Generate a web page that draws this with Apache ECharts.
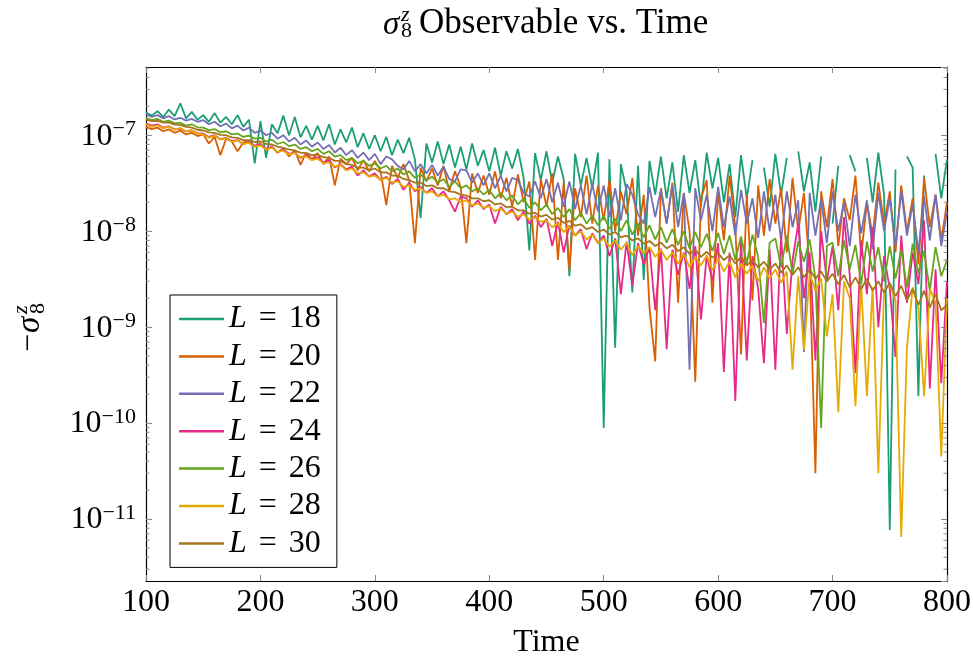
<!DOCTYPE html>
<html><head><meta charset="utf-8">
<script src="https://cdn.jsdelivr.net/npm/echarts@6/dist/echarts.min.js"></script>
<style>html,body{margin:0;padding:0;background:#fff}#c{width:973px;height:659px}</style>
</head><body><div id="c"></div>
<script>
const time = [100,105,110,115,120,125,130,135,140,145,150,155,160,165,170,175,180,185,190,195,
200,205,210,215,220,225,230,235,240,245,250,255,260,265,270,275,280,285,290,295,
300,305,310,315,320,325,330,335,340,345,350,355,360,365,370,375,380,385,390,395,
400,405,410,415,420,425,430,435,440,445,450,455,460,465,470,475,480,485,490,495,
500,505,510,515,520,525,530,535,540,545,550,555,560,565,570,575,580,585,590,595,
600,605,610,615,620,625,630,635,640,645,650,655,660,665,670,675,680,685,690,695,
700,705,710,715,720,725,730,735,740,745,750,755,760,765,770,775,780,785,790,795,800];

const L18 = [1.72e-7,1.6e-7,1.78e-7,1.55e-7,1.85e-7,1.58e-7,2.15e-7,1.5e-7,1.75e-7,1.45e-7,
1.62e-7,1.38e-7,1.7e-7,1.35e-7,1.55e-7,1.3e-7,1.62e-7,1.22e-7,1.45e-7,5.1e-8,
1.4e-7,5.8e-8,1.3e-7,1.05e-7,1.6e-7,1.0e-7,1.55e-7,9.5e-8,1.25e-7,9.0e-8,
1.25e-7,8.8e-8,1.3e-7,8.0e-8,1.15e-7,8.4e-8,1.2e-7,7.5e-8,1.05e-7,7.2e-8,
1.0e-7,6.8e-8,9.6e-8,6.2e-8,9.0e-8,6.5e-8,9.4e-8,5.6e-8,1.37e-8,8.2e-8,
5.2e-8,8.6e-8,5.0e-8,8.0e-8,4.6e-8,7.6e-8,4.4e-8,8.2e-8,4.8e-8,7.0e-8,
4.2e-8,7.4e-8,3.8e-8,6.8e-8,4.5e-8,7.2e-8,3.6e-8,6.3e-9,6.5e-8,3.4e-8,
6.8e-8,3.2e-8,6.0e-8,3.5e-8,3.4e-9,6.4e-8,3.0e-8,5.8e-8,2.8e-8,6.6e-8,
8.9e-11,5.6e-8,6.1e-10,5.0e-8,2.6e-8,2.3e-9,4.8e-8,3.1e-9,5.4e-8,2.4e-8,
6.0e-8,2.2e-8,5.2e-8,1.6e-8,6.2e-8,2.5e-8,5.5e-8,1.8e-8,6.6e-8,2.8e-8,
5.8e-8,2.0e-8,5.0e-8,1.4e-8,6.2e-8,2.2e-8,5.5e-8,null,4.6e-8,1.8e-8,
6.4e-8,2.4e-8,5.8e-8,null,6.8e-8,2.6e-8,5.2e-8,1.6e-8,6.0e-8,null,
1.2e-8,4.8e-8,null,6.2e-8,4.2e-8,null,5.8e-8,2.0e-8,6.6e-8,2.4e-8,
7.7e-12,4.4e-8,null,6.0e-8,4.6e-8,1.9e-10,3.8e-8,null,6.4e-8,2.2e-8,
5.6e-8];

const L20 = [1.22e-7,1.16e-7,1.2e-7,1.1e-7,1.15e-7,1.06e-7,1.12e-7,1.02e-7,1.06e-7,9.8e-8,
1.02e-7,8.2e-8,9.6e-8,6.2e-8,9.2e-8,8.6e-8,6.8e-8,8.4e-8,8.6e-8,7.6e-8,
8.2e-8,7.0e-8,7.6e-8,6.6e-8,7.3e-8,6.0e-8,7.0e-8,4.9e-8,6.6e-8,5.6e-8,
6.5e-8,5.0e-8,6.0e-8,3.0e-8,5.7e-8,5.0e-8,5.8e-8,4.3e-8,5.5e-8,4.2e-8,
5.4e-8,4.2e-8,1.87e-8,4.8e-8,3.6e-8,5.0e-8,3.4e-8,7.5e-9,4.6e-8,3.3e-8,
4.5e-8,3.0e-8,4.8e-8,2.6e-8,4.2e-8,2.9e-8,7.5e-9,4.0e-8,2.5e-8,3.8e-8,
2.4e-8,4.2e-8,2.2e-8,3.6e-8,1.8e-8,3.9e-8,2.0e-8,3.3e-8,5.0e-9,3.5e-8,
1.8e-8,4.0e-8,5.0e-9,3.2e-8,3.9e-9,2.8e-8,1.4e-8,3.8e-8,1.2e-8,3.0e-8,
1.3e-8,3.4e-8,1.0e-8,2.6e-8,1.5e-8,3.6e-8,9.0e-9,2.4e-8,1.6e-9,4.4e-10,
2.8e-8,1.2e-8,3.2e-8,1.8e-9,2.5e-8,1.0e-8,2.7e-10,2.2e-8,3.4e-8,1.8e-9,
2.6e-8,8.0e-9,3.8e-8,1.1e-8,5.2e-10,2.4e-8,1.9e-9,3.0e-8,9.0e-9,3.5e-8,
1.2e-8,2.8e-8,6.0e-9,3.6e-8,1.0e-8,2.5e-8,4.0e-9,3.0e-11,2.6e-8,1.1e-8,
3.5e-8,7.0e-9,2.2e-8,1.3e-8,3.8e-8,5.5e-9,2.0e-8,9.0e-9,3.2e-8,1.2e-8,
2.6e-8,6.0e-9,3.0e-8,1.0e-8,2.2e-8,4.5e-9,3.6e-8,1.1e-8,2.4e-8,8.0e-9,
2.0e-8];

const L22 = [1.66e-7,1.55e-7,1.62e-7,1.5e-7,1.58e-7,1.46e-7,1.52e-7,1.42e-7,1.48e-7,1.38e-7,
1.44e-7,1.3e-7,1.38e-7,1.24e-7,1.32e-7,1.18e-7,1.26e-7,1.12e-7,1.2e-7,1.06e-7,
1.12e-7,1.0e-7,1.06e-7,9.2e-8,1.0e-7,8.6e-8,9.4e-8,8.0e-8,8.8e-8,7.6e-8,
8.4e-8,7.2e-8,7.9e-8,6.6e-8,7.4e-8,6.2e-8,7.0e-8,5.8e-8,6.6e-8,5.5e-8,
6.4e-8,5.0e-8,6.0e-8,5.6e-8,4.8e-8,4.4e-8,5.4e-8,4.2e-8,5.0e-8,4.0e-8,
4.9e-8,3.8e-8,4.7e-8,3.5e-8,3.3e-8,4.4e-8,4.3e-8,3.2e-8,4.0e-8,3.0e-8,
4.0e-8,2.8e-8,3.8e-8,2.6e-8,3.6e-8,3.4e-8,2.5e-8,2.3e-8,3.3e-8,2.2e-8,
3.5e-8,2.0e-8,3.2e-8,1.8e-8,3.3e-8,1.7e-8,3.0e-8,1.5e-8,3.1e-8,1.6e-8,
3.0e-8,1.4e-8,2.8e-8,1.3e-8,3.1e-8,2.4e-8,1.5e-8,1.2e-8,2.9e-8,1.4e-8,
2.7e-8,1.2e-8,3.0e-8,1.1e-8,2.5e-8,3.6e-10,2.8e-8,1.3e-8,2.4e-8,1.0e-8,
2.9e-8,1.1e-8,2.3e-8,9.0e-9,2.7e-8,1.2e-8,2.2e-8,8.5e-9,2.6e-8,1.0e-8,
2.4e-8,8.0e-9,2.6e-8,1.1e-8,2.1e-8,5.5e-10,2.5e-8,9.0e-9,2.2e-8,7.5e-9,
2.6e-8,1.0e-8,2.0e-8,7.0e-9,2.4e-8,9.5e-9,2.1e-8,6.5e-9,2.5e-8,1.0e-8,
2.2e-8,7.0e-9,2.6e-8,9.0e-9,1.9e-8,6.0e-9,2.3e-8,8.0e-9,2.4e-8,7.0e-9,
1.6e-8];

const L24 = [1.33e-7,1.26e-7,1.3e-7,1.2e-7,1.24e-7,1.15e-7,1.17e-7,1.1e-7,1.12e-7,1.05e-7,
1.04e-7,9.6e-8,1.0e-7,9.1e-8,9.4e-8,8.7e-8,8.9e-8,8.1e-8,8.4e-8,7.8e-8,
8.0e-8,7.2e-8,7.6e-8,6.6e-8,7.1e-8,6.4e-8,6.6e-8,5.8e-8,6.2e-8,5.6e-8,
5.9e-8,5.2e-8,5.5e-8,4.6e-8,5.0e-8,4.4e-8,4.7e-8,3.8e-8,4.3e-8,3.7e-8,
4.0e-8,3.4e-8,3.7e-8,3.1e-8,3.5e-8,2.7e-8,3.2e-8,2.6e-8,2.9e-8,2.5e-8,
2.8e-8,2.3e-8,2.6e-8,2.1e-8,1.6e-8,2.3e-8,2.2e-8,1.8e-8,2.1e-8,1.7e-8,
1.9e-8,1.2e-8,1.8e-8,1.5e-8,1.7e-8,1.3e-8,1.6e-8,1.2e-8,1.45e-8,1.1e-8,
1.35e-8,7.0e-9,1.25e-8,6.0e-9,1.15e-8,9.0e-9,1.05e-8,6.5e-9,9.5e-9,7.5e-9,
9.0e-9,5.5e-9,8.4e-9,2.2e-9,7.8e-9,2.7e-9,7.5e-9,4.5e-9,6.8e-9,1.5e-9,
6.6e-9,5.9e-10,6.4e-9,3.5e-9,6.0e-9,2.5e-9,7.0e-9,1.2e-9,5.6e-9,3.0e-9,
7.5e-9,3.4e-10,6.0e-9,1.7e-10,8.0e-9,4.5e-10,5.5e-9,2.5e-9,4.2e-10,6.5e-9,
3.6e-10,9.0e-9,8.5e-10,5.0e-9,1.2e-8,2.0e-9,6.0e-9,4.5e-10,1.0e-8,3.0e-9,
7.0e-9,1.5e-9,1.4e-8,3.5e-9,3.3e-10,8.0e-9,2.2e-9,1.1e-8,1.0e-9,5.5e-9,
2.5e-9,4.9e-10,9.0e-9,1.8e-9,6.0e-9,2.8e-9,1.3e-8,2.3e-10,4.0e-9,2.6e-10,
3.0e-9];

const L26 = [1.52e-7,1.44e-7,1.48e-7,1.38e-7,1.42e-7,1.33e-7,1.35e-7,1.26e-7,1.3e-7,1.21e-7,
1.2e-7,1.13e-7,1.16e-7,1.07e-7,1.1e-7,1.02e-7,1.04e-7,9.6e-8,9.9e-8,9.2e-8,
9.4e-8,8.6e-8,9.0e-8,8.1e-8,8.5e-8,7.7e-8,8.0e-8,7.2e-8,7.5e-8,6.8e-8,
7.2e-8,6.4e-8,6.8e-8,6.0e-8,6.2e-8,5.5e-8,5.8e-8,5.1e-8,5.4e-8,4.8e-8,
5.1e-8,4.5e-8,4.8e-8,4.2e-8,4.5e-8,3.9e-8,4.2e-8,3.6e-8,3.9e-8,3.4e-8,
3.7e-8,3.2e-8,3.5e-8,2.9e-8,3.3e-8,2.8e-8,3.0e-8,2.6e-8,2.8e-8,2.4e-8,
2.7e-8,2.2e-8,2.5e-8,2.1e-8,2.35e-8,1.9e-8,2.2e-8,1.75e-8,2.0e-8,1.65e-8,
1.9e-8,1.5e-8,1.75e-8,1.4e-8,1.7e-8,1.3e-8,1.55e-8,1.2e-8,1.45e-8,1.15e-8,
1.45e-8,1.05e-8,1.35e-8,1.0e-8,1.3e-8,9.2e-9,1.2e-8,8.6e-9,1.15e-8,8.2e-9,
1.1e-8,7.6e-9,1.05e-8,7.2e-9,1.0e-8,6.6e-9,9.8e-9,6.8e-9,9.4e-9,6.2e-9,
9.6e-9,5.8e-9,9.0e-9,5.0e-9,8.8e-9,4.6e-9,9.2e-9,5.4e-9,1.1e-9,7.6e-9,
8.4e-9,4.2e-9,9.0e-9,3.6e-9,7.8e-9,4.8e-9,8.2e-9,3.2e-9,8.9e-11,7.0e-9,
7.6e-9,3.4e-9,8.0e-9,4.0e-9,7.2e-9,2.8e-9,7.8e-9,3.8e-9,6.8e-9,3.0e-9,
7.0e-9,3.2e-9,6.4e-9,2.6e-9,7.4e-9,3.6e-9,6.2e-9,2.4e-9,6.8e-9,3.4e-9,
5.0e-9];

const L28 = [1.30e-7,1.22e-7,1.27e-7,1.18e-7,1.23e-7,1.14e-7,1.19e-7,1.10e-7,1.12e-7,1.04e-7,
1.02e-7,9.4e-8,9.9e-8,9.0e-8,9.3e-8,8.5e-8,8.8e-8,8.1e-8,8.3e-8,7.6e-8,
7.8e-8,7.1e-8,7.4e-8,6.7e-8,6.9e-8,6.3e-8,6.5e-8,5.9e-8,6.0e-8,5.5e-8,
5.7e-8,5.1e-8,5.2e-8,4.7e-8,4.9e-8,4.3e-8,4.5e-8,4.0e-8,4.1e-8,3.7e-8,
3.8e-8,3.4e-8,3.6e-8,3.2e-8,3.3e-8,2.9e-8,3.0e-8,2.7e-8,2.8e-8,2.5e-8,
2.6e-8,2.3e-8,2.4e-8,2.15e-8,2.2e-8,2.0e-8,2.1e-8,1.85e-8,1.95e-8,1.75e-8,
1.82e-8,1.62e-8,1.72e-8,1.52e-8,1.6e-8,1.42e-8,1.5e-8,1.32e-8,1.4e-8,1.25e-8,
1.3e-8,1.1e-8,1.2e-8,9.8e-9,1.12e-8,9.0e-9,1.0e-8,8.2e-9,9.2e-9,7.5e-9,
8.4e-9,6.9e-9,8.0e-9,6.4e-9,7.6e-9,5.6e-9,7.0e-9,5.9e-9,6.8e-9,5.4e-9,
6.4e-9,5.0e-9,6.0e-9,4.6e-9,5.8e-9,4.2e-9,5.4e-9,4.4e-9,5.6e-9,3.9e-9,
5.2e-9,3.8e-9,4.8e-9,3.3e-9,4.6e-9,3.6e-9,4.4e-9,3.0e-9,4.2e-9,3.2e-9,
4.0e-9,2.9e-9,3.8e-9,3.6e-10,3.4e-9,5.8e-10,3.6e-9,2.4e-9,3.2e-9,8.0e-10,
2.2e-9,1.3e-10,3.0e-9,2.0e-9,1.5e-10,2.8e-9,1.9e-10,2.6e-9,3.0e-11,2.4e-9,
2.8e-9,1.9e-9,6.5e-12,6.2e-10,2.6e-9,1.6e-9,1.9e-10,2.5e-9,1.8e-9,4.5e-11,
2.0e-9];

const L30 = [1.45e-7,1.40e-7,1.41e-7,1.35e-7,1.36e-7,1.29e-7,1.28e-7,1.22e-7,1.20e-7,1.14e-7,
1.12e-7,1.07e-7,1.06e-7,1.01e-7,1.0e-7,9.5e-8,9.4e-8,8.9e-8,8.9e-8,8.5e-8,
8.6e-8,8.1e-8,8.0e-8,7.6e-8,7.4e-8,7.1e-8,6.9e-8,6.6e-8,6.5e-8,6.2e-8,
6.3e-8,5.9e-8,5.8e-8,5.4e-8,5.4e-8,5.0e-8,4.9e-8,4.6e-8,4.6e-8,4.3e-8,
4.5e-8,4.1e-8,4.1e-8,3.8e-8,3.8e-8,3.5e-8,3.4e-8,3.2e-8,3.2e-8,2.95e-8,
3.0e-8,2.8e-8,2.8e-8,2.6e-8,2.55e-8,2.4e-8,2.35e-8,2.2e-8,2.2e-8,2.05e-8,
2.1e-8,1.9e-8,1.95e-8,1.78e-8,1.8e-8,1.65e-8,1.65e-8,1.52e-8,1.55e-8,1.42e-8,
1.48e-8,1.32e-8,1.38e-8,1.22e-8,1.28e-8,1.14e-8,1.18e-8,1.05e-8,1.1e-8,9.8e-9,
1.04e-8,9.2e-9,9.8e-9,8.6e-9,9.0e-9,8.0e-9,8.4e-9,7.4e-9,7.9e-9,7.0e-9,
7.6e-9,6.6e-9,7.2e-9,6.2e-9,6.8e-9,5.8e-9,6.4e-9,5.4e-9,6.1e-9,5.3e-9,
5.9e-9,5.0e-9,5.6e-9,4.6e-9,5.4e-9,4.4e-9,5.0e-9,4.2e-9,4.8e-9,4.0e-9,
4.6e-9,3.7e-9,4.4e-9,3.5e-9,4.2e-9,3.3e-9,4.0e-9,3.2e-9,3.8e-9,3.0e-9,
3.6e-9,2.8e-9,3.5e-9,2.6e-9,3.3e-9,2.5e-9,3.2e-9,2.4e-9,3.0e-9,2.3e-9,
2.9e-9,2.1e-9,2.7e-9,1.9e-9,2.5e-9,1.7e-9,2.4e-9,1.6e-9,2.2e-9,1.5e-9,
1.7e-9];

const seriesNames = ['L = 18','L = 20','L = 22','L = 24','L = 26','L = 28','L = 30'];
const seriesValues = [L18, L20, L22, L24, L26, L28, L30];
const colors = ['#1b9e77','#d95f02','#7570b3','#e7298a','#66a61e','#e6ab02','#a6761d'];
const xTicks = [100,200,300,400,500,600,700,800];
const yMin = 2.26e-12, yMax = 5.14e-7;

const FF = '"Liberation Serif","DejaVu Serif",serif';

const minorTicks = [];
for (let e = -12; e <= -7; e++) {
  for (let m = 2; m <= 9; m++) {
    const v = m * Math.pow(10, e);
    if (v > yMin && v < yMax) minorTicks.push(v);
  }
}

const lineSeries = seriesNames.map((n, k) => ({
  name: n, type: 'line', xAxisIndex: 0, yAxisIndex: 0,
  data: time.map((t, i) => [t, seriesValues[k][i] === null ? '-' : seriesValues[k][i]]),
  symbol: 'none', showSymbol: false, connectNulls: false,
  lineStyle: { color: colors[k], width: 1.8 }, itemStyle: { color: colors[k] },
  animation: false, z: 2 + k
}));

const minorSeries = {
  type: 'custom', name: 'minor', silent: true, xAxisIndex: 0, yAxisIndex: 0,
  data: minorTicks.map(v => [100, v]), animation: false, z: 20,
  renderItem: function (params, api) {
    const v = api.value(1);
    const l = api.coord([100, v]);
    const r = api.coord([800, v]);
    return { type: 'group', children: [
      { type: 'line', shape: { x1: l[0], y1: l[1], x2: l[0] + 3.5, y2: l[1] }, style: { stroke: '#888', lineWidth: 1 } },
      { type: 'line', shape: { x1: r[0], y1: r[1], x2: r[0] - 3.5, y2: r[1] }, style: { stroke: '#888', lineWidth: 1 } }
    ]};
  }
};

const axisLineStyle = { show: true, lineStyle: { color: '#000', width: 1.2 } };
const tickStyle = { show: true, inside: true, length: 6, lineStyle: { color: '#888', width: 1 } };

const chart = echarts.init(document.getElementById('c'), null, { renderer: 'canvas' });
chart.setOption({
  backgroundColor: '#fff',
  animation: false,
  grid: { left: 146, right: 26, top: 67, bottom: 78, containLabel: false, outerBoundsMode: 'none' },
  xAxis: [{
    type: 'value', min: 100, max: 800, interval: 100, position: 'bottom',
    axisLine: axisLineStyle, axisTick: tickStyle, splitLine: { show: false },
    axisLabel: { fontFamily: FF, fontSize: 32, color: '#000', margin: 6 },
    name: 'Time', nameLocation: 'middle', nameGap: 46,
    nameTextStyle: { fontFamily: FF, fontSize: 32, color: '#000' }
  }, {
    type: 'value', min: 100, max: 800, interval: 100, position: 'top',
    axisLine: axisLineStyle, axisTick: tickStyle, splitLine: { show: false },
    axisLabel: { show: false }
  }],
  yAxis: [{
    type: 'log', logBase: 10, min: yMin, max: yMax, position: 'left',
    axisLine: axisLineStyle, axisTick: tickStyle, splitLine: { show: false },
    axisLabel: {
      showMinLabel: false, showMaxLabel: false, margin: 10,
      formatter: function (value) {
        const e = Math.round(Math.log10(value));
        return '{b|10}{e|\u2212' + Math.abs(e) + '}';
      },
      rich: {
        b: { fontFamily: FF, fontSize: 32, color: '#000', lineHeight: 34, verticalAlign: 'bottom' },
        e: { fontFamily: FF, fontSize: 22, color: '#000', lineHeight: 22, verticalAlign: 'top' }
      }
    }
  }, {
    type: 'log', logBase: 10, min: yMin, max: yMax, position: 'right',
    axisLine: axisLineStyle, axisTick: tickStyle, splitLine: { show: false },
    axisLabel: { show: false }
  }],
  legend: {
    data: seriesNames.map(n => ({ name: n, icon: 'rect' })),
    orient: 'vertical', left: 170, top: 295,
    itemWidth: 45, itemHeight: 2.5, itemGap: 5.4,
    padding: [8, 16, 8, 9],
    borderColor: '#000', borderWidth: 1, backgroundColor: '#fff',
    selectedMode: false,
    formatter: function (name) {
      return '{i|L}{e|=}{n|' + name.split('= ')[1] + '}';
    },
    textStyle: {
      fontFamily: FF, fontSize: 32, color: '#000', lineHeight: 28,
      rich: {
        i: { fontFamily: FF, fontSize: 32, fontStyle: 'italic', color: '#000', lineHeight: 28 },
        e: { fontFamily: FF, fontSize: 32, color: '#000', lineHeight: 28, padding: [0, 12, 0, 12] },
        n: { fontFamily: FF, fontSize: 32, color: '#000', lineHeight: 28 }
      }
    }
  },
  graphic: [
    { type: 'text', x: 383, y: 25, silent: true, style: { text: '\u03c3', fontFamily: FF, fontSize: 33, fontStyle: 'italic', fill: '#000', align: 'left', verticalAlign: 'middle', textAlign: 'left', textVerticalAlign: 'middle' } },
    { type: 'text', x: 401, y: 15, silent: true, style: { text: 'z', fontFamily: FF, fontSize: 22, fontStyle: 'italic', fill: '#000', align: 'left', verticalAlign: 'middle', textAlign: 'left', textVerticalAlign: 'middle' } },
    { type: 'text', x: 401, y: 31, silent: true, style: { text: '8', fontFamily: FF, fontSize: 22, fill: '#000', align: 'left', verticalAlign: 'middle', textAlign: 'left', textVerticalAlign: 'middle' } },
    { type: 'text', x: 419, y: 24, silent: true, style: { text: 'Observable vs. Time', fontFamily: FF, fontSize: 35, fill: '#000', align: 'left', verticalAlign: 'middle', textAlign: 'left', textVerticalAlign: 'middle' } },
    { type: 'group', x: 30, y: 352, rotation: Math.PI / 2, silent: true, children: [
      { type: 'text', x: 0, y: 0, style: { text: '\u2212', fontFamily: FF, fontSize: 32, fill: '#000', align: 'left', verticalAlign: 'middle', textAlign: 'left', textVerticalAlign: 'middle' } },
      { type: 'text', x: 19, y: 0, style: { text: '\u03c3', fontFamily: FF, fontSize: 33, fontStyle: 'italic', fill: '#000', align: 'left', verticalAlign: 'middle', textAlign: 'left', textVerticalAlign: 'middle' } },
      { type: 'text', x: 38, y: -9, style: { text: 'z', fontFamily: FF, fontSize: 22, fontStyle: 'italic', fill: '#000', align: 'left', verticalAlign: 'middle', textAlign: 'left', textVerticalAlign: 'middle' } },
      { type: 'text', x: 38, y: 8, style: { text: '8', fontFamily: FF, fontSize: 22, fill: '#000', align: 'left', verticalAlign: 'middle', textAlign: 'left', textVerticalAlign: 'middle' } }
    ]}
  ],
  series: lineSeries.concat([minorSeries])
});
</script>
</body></html>
